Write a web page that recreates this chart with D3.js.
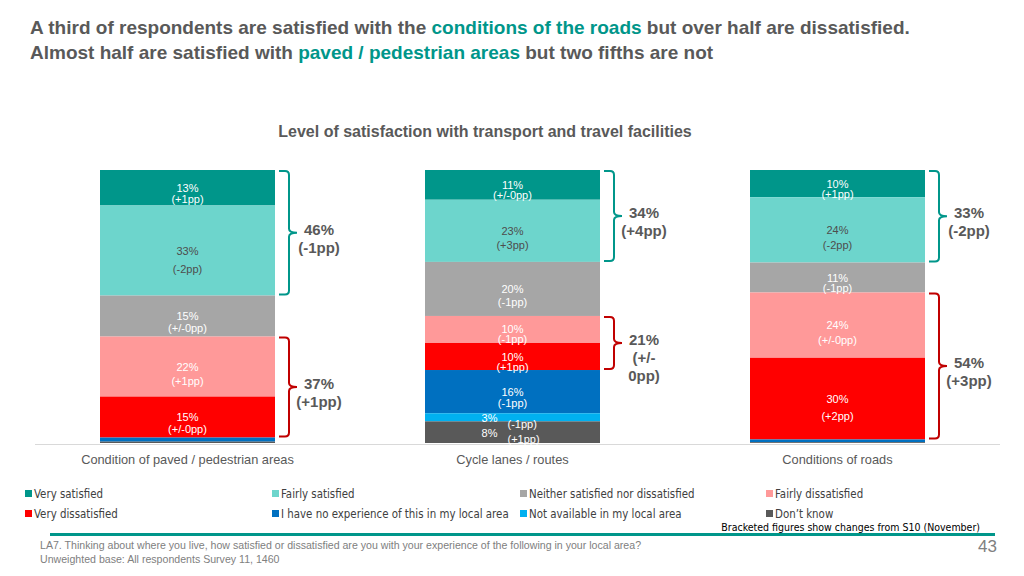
<!DOCTYPE html>
<html><head><meta charset="utf-8">
<script src="https://cdn.jsdelivr.net/npm/d3@7"></script>
<style>
html,body{margin:0;padding:0;background:#fff;}
svg{display:block;}
</style></head>
<body>
<svg id="chart" width="1024" height="576"></svg>
<script>
const categories = ["Condition of paved / pedestrian areas", "Cycle lanes / routes", "Conditions of roads"];
const seriesNames = ["Very satisfied","Fairly satisfied","Neither satisfied nor dissatisfied","Fairly dissatisfied","Very dissatisfied","I have no experience of this in my local area","Not available in my local area","Don\u2019t know"];
const verySatisfied   = [13, 11, 10];
const fairlySatisfied = [33, 23, 24];
const neither         = [15, 20, 11];
const fairlyDissat    = [22, 10, 24];
const veryDissat      = [15, 10, 30];
const noExperience    = [1.5, 16, 1];
const notAvailable    = [0, 3, 0];
const dontKnow        = [0.5, 8, 0.3];
const changes = [
  ["(+1pp)","(+/-0pp)","(+1pp)"],
  ["(-2pp)","(+3pp)","(-2pp)"],
  ["(+/-0pp)","(-1pp)","(-1pp)"],
  ["(+1pp)","(-1pp)","(+/-0pp)"],
  ["(+/-0pp)","(+1pp)","(+2pp)"],
  [null,"(-1pp)",null],
  [null,"(-1pp)",null],
  [null,"(+1pp)",null]
];
const satLabels    = [["46%","(-1pp)"],["34%","(+4pp)"],["33%","(-2pp)"]];
const dissatLabels = [["37%","(+1pp)"],["21%","(+/-","0pp)"],["54%","(+3pp)"]];

const colors = ["#00968a","#6dd5cc","#a6a6a6","#ff9999","#ff0000","#0070c0","#00b0f0","#595959"];
const labelColors = ["#fff","#4d4d4d","#fff","#fff","#fff","#fff","#fff","#fff"];
const allSeries = [verySatisfied,fairlySatisfied,neither,fairlyDissat,veryDissat,noExperience,notAvailable,dontKnow];

const table = categories.map((c,i)=>{
  const o = {cat:c};
  seriesNames.forEach((s,j)=>o[s]=allSeries[j][i]);
  return o;
});

const svg = d3.select("#chart");
const FONT = "'Liberation Sans', Arial, sans-serif";
const NARROW = "'Liberation Sans Narrow', 'DejaVu Sans Condensed', sans-serif";
const GRAY = "#595959", TEAL = "#00968a", DRED = "#c00000";

// Title
const t = svg.append("text").attr("font-family",FONT).attr("font-weight","bold").attr("font-size",19).attr("fill",GRAY);
const l1 = t.append("tspan").attr("x",30).attr("y",34);
l1.append("tspan").text("A third of respondents are satisfied with the ");
l1.append("tspan").attr("fill",TEAL).text("conditions of the roads");
l1.append("tspan").text(" but over half are dissatisfied.");
const l2 = t.append("tspan").attr("x",30).attr("y",59);
l2.append("tspan").text("Almost half are satisfied with ");
l2.append("tspan").attr("fill",TEAL).text("paved / pedestrian areas");
l2.append("tspan").text(" but two fifths are not");

svg.append("text").attr("x",485).attr("y",137).attr("text-anchor","middle")
  .attr("font-family",FONT).attr("font-weight","bold").attr("font-size",16).attr("fill",GRAY)
  .text("Level of satisfaction with transport and travel facilities");

const x = d3.scaleBand().domain(categories).range([25,1000]).paddingInner(150/325).paddingOuter(75/325);
const y = d3.scaleLinear().domain([0,1]).range([170,443]);

const stack = d3.stack().keys(seriesNames).offset(d3.stackOffsetExpand);
const layers = stack(table);

// axis baseline
svg.append("line").attr("x1",35).attr("x2",1000).attr("y1",444.5).attr("y2",444.5).attr("stroke","#d9d9d9").attr("stroke-width",1);

const g = svg.append("g");
layers.forEach((layer,j)=>{
  g.selectAll(null).data(layer).enter().append("rect")
    .attr("x",d=>x(d.data.cat)).attr("width",x.bandwidth())
    .attr("y",d=>y(d[0])).attr("height",d=>Math.max(0,y(d[1])-y(d[0])))
    .attr("fill",colors[j]);
});

// segment labels
layers.forEach((layer,j)=>{
  layer.forEach((d,i)=>{
    const v = allSeries[j][i];
    if (v < 2) return;
    const y0 = y(d[0]), y1 = y(d[1]), h = y1-y0, cy = (y0+y1)/2;
    const cx = x(d.data.cat) + x.bandwidth()/2;
    const lab = g.append("g").attr("font-family",FONT).attr("font-size",11).attr("fill",labelColors[j]);
    if (h < 25) {
      lab.append("text").attr("x",cx-15).attr("y",cy+5).attr("text-anchor","end").text(v+"%");
      if (changes[j][i]) lab.append("text").attr("x",cx-5).attr("y",cy+11).attr("text-anchor","start").text(changes[j][i]);
    } else {
      const gap = 10 + Math.max(0,h-30)*0.14;
      lab.append("text").attr("x",cx).attr("y",cy+4).attr("text-anchor","middle").text(v+"%");
      if (changes[j][i]) lab.append("text").attr("x",cx).attr("y",cy+4+gap).attr("text-anchor","middle").text(changes[j][i]);
    }
  });
});

// braces
function bracePath(bx, y0, y1){
  const w = 10, tip = 8, r = 4, mid = (y0+y1)/2;
  return `M${bx},${y0} H${bx+w-r} Q${bx+w},${y0} ${bx+w},${y0+r} V${mid-r} Q${bx+w},${mid} ${bx+w+tip},${mid} Q${bx+w},${mid} ${bx+w},${mid+r} V${y1-r} Q${bx+w},${y1} ${bx+w-r},${y1} H${bx}`;
}
categories.forEach((c,i)=>{
  const bx = x(c) + x.bandwidth() + 4;
  const sTop = y(layers[0][i][0]), sBot = y(layers[1][i][1]);
  const dTop = y(layers[3][i][0]), dBot = y(layers[4][i][1]);
  [[sTop,sBot,TEAL,satLabels[i]],[dTop,dBot,DRED,dissatLabels[i]]].forEach(([a,b,col,lines])=>{
    svg.append("path").attr("d",bracePath(bx,a+1,b-1)).attr("fill","none").attr("stroke",col).attr("stroke-width",2);
    const mid = (a+b)/2;
    const tx = svg.append("text").attr("font-family",FONT).attr("font-weight","bold").attr("font-size",15).attr("fill",GRAY).attr("text-anchor","middle");
    lines.forEach((ln,k)=>tx.append("tspan").attr("x",bx+40).attr("y",mid+2+k*18).text(ln));
  });
});

// category labels
svg.selectAll(null).data(categories).enter().append("text")
  .attr("x",d=>x(d)+x.bandwidth()/2).attr("y",464).attr("text-anchor","middle")
  .attr("font-family",FONT).attr("font-size",12.8).attr("fill",GRAY).text(d=>d);

// legend
const legX = [25,272,520,766];
seriesNames.forEach((s,j)=>{
  const lx = legX[j%4], ly = j<4 ? 494 : 514;
  svg.append("rect").attr("x",lx).attr("y",ly-4).attr("width",7).attr("height",7).attr("fill",colors[j]);
  svg.append("text").attr("x",lx+9).attr("y",ly+4).attr("font-family",NARROW).attr("font-size",11.4).attr("fill","#404040").text(s);
});

svg.append("text").attr("x",980).attr("y",531).attr("text-anchor","end")
  .attr("font-family",NARROW).attr("font-size",10.5).attr("fill","#000")
  .text("Bracketed figures show changes from S10 (November)");
svg.append("line").attr("x1",50).attr("x2",995).attr("y1",534.5).attr("y2",534.5).attr("stroke",TEAL).attr("stroke-width",3);

svg.append("text").attr("x",40).attr("y",549).attr("font-family",FONT).attr("font-size",10.6).attr("fill","#808080")
  .text("LA7. Thinking about where you live, how satisfied or dissatisfied are you with your experience of the following in your local area?");
svg.append("text").attr("x",40).attr("y",563).attr("font-family",FONT).attr("font-size",10.6).attr("fill","#808080")
  .text("Unweighted base: All respondents Survey 11, 1460");
svg.append("text").attr("x",997).attr("y",552).attr("text-anchor","end").attr("font-family",FONT).attr("font-size",17).attr("fill","#808080").text("43");
</script>
</body></html>
